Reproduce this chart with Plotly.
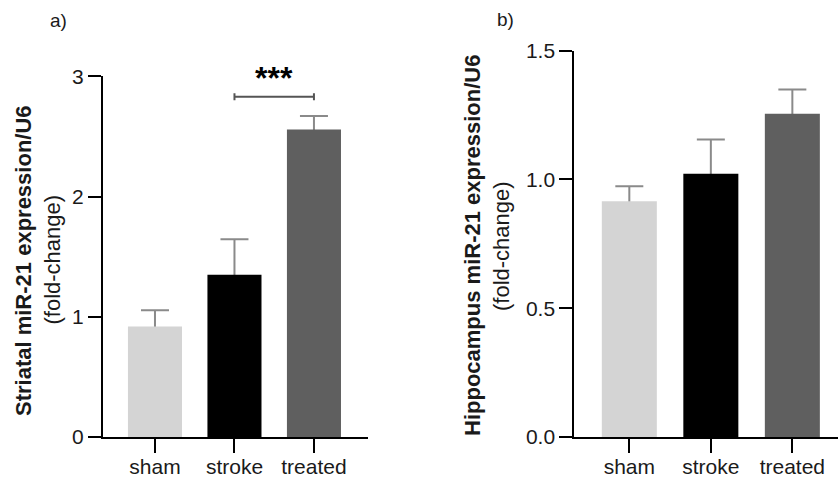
import plotly.graph_objects as go

# ---- data ----
categories = ["sham", "stroke", "treated"]
bar_colors = ["#d4d4d4", "#000000", "#5f5f5f"]

striatal_mean = [0.92, 1.35, 2.557]
striatal_sem = [0.135, 0.295, 0.113]

hippo_mean = [0.915, 1.022, 1.255]
hippo_sem = [0.059, 0.133, 0.094]

striatal_ticks = [0, 1, 2, 3]
striatal_ticklabels = ["0", "1", "2", "3"]
hippo_ticks = [0.0, 0.5, 1.0, 1.5]
hippo_ticklabels = ["0.0", "0.5", "1.0", "1.5"]

# significance: (group a, group b, bracket height, label)
striatal_sig = [("stroke", "treated", 2.83, "***")]

W, H = 838, 478
FONT = "Liberation Sans, Arial, sans-serif"
ERR_COLOR = "#8a8a8a"


def px_x(p):
    return p / W


def px_y(p):
    return 1 - p / H


fig = go.Figure()


def add_panel(means, sems, width, xa, ya):
    # error bars drawn first (running from 0 to mean+sem) so the visible bar hides the lower part
    fig.add_trace(go.Bar(
        x=categories, y=means, width=width,
        marker=dict(color="rgba(0,0,0,0)", line=dict(width=0)),
        error_y=dict(type="data", array=sems, arrayminus=means,
                     symmetric=False, color=ERR_COLOR, thickness=2, width=14),
        xaxis=xa, yaxis=ya, showlegend=False, hoverinfo="skip",
    ))
    fig.add_trace(go.Bar(
        x=categories, y=means, width=width,
        marker=dict(color=bar_colors, line=dict(width=0)),
        xaxis=xa, yaxis=ya, showlegend=False,
    ))


add_panel(striatal_mean, striatal_sem, 0.68, "x", "y")
add_panel(hippo_mean, hippo_sem, 0.675, "x2", "y2")

axis_common = dict(
    showline=True, linecolor="#000000", linewidth=2,
    ticks="outside", tickcolor="#000000", tickwidth=2,
    showgrid=False, zeroline=False, automargin=False,
    tickfont=dict(family=FONT, size=21, color="#1a1a1a"),
)

fig.update_layout(
    width=W, height=H,
    margin=dict(l=0, r=0, t=0, b=0, pad=0, autoexpand=False),
    barmode="overlay",
    paper_bgcolor="white", plot_bgcolor="white",
    font=dict(family=FONT, color="#1a1a1a"),
    xaxis=dict(domain=[px_x(103), px_x(368)], range=[-0.654, 2.68],
               type="category", anchor="y", ticklen=14, ticklabelstandoff=-4,
               **axis_common),
    yaxis=dict(domain=[px_y(437), px_y(76.3)], range=[0, 3],
               tickvals=striatal_ticks, ticktext=striatal_ticklabels,
               anchor="x", ticklen=13, **axis_common),
    xaxis2=dict(domain=[px_x(574.3), 1.0], range=[-0.675, 2.56],
                type="category", anchor="y2", ticklen=14, ticklabelstandoff=-4,
                **axis_common),
    yaxis2=dict(domain=[px_y(437), px_y(50.7)], range=[0, 1.5],
                tickvals=hippo_ticks, ticktext=hippo_ticklabels,
                anchor="x2", ticklen=13, **axis_common),
)

# significance brackets
for a, b, yv, lab in striatal_sig:
    i0, i1 = categories.index(a), categories.index(b)
    fig.add_shape(type="line", xref="x", yref="y", x0=i0, x1=i1, y0=yv, y1=yv,
                  line=dict(color="#555555", width=2))
    for xi in (i0, i1):
        fig.add_shape(type="line", xref="x", yref="y", x0=xi, x1=xi,
                      y0=yv - 0.03, y1=yv + 0.03, line=dict(color="#555555", width=2))
    fig.add_annotation(xref="x", yref="y", x=(i0 + i1) / 2, y=yv + 0.155,
                       text="<b>" + lab + "</b>", showarrow=False,
                       font=dict(family=FONT, size=32, color="#000000"),
                       xanchor="center", yanchor="middle")

# panel labels
fig.add_annotation(xref="paper", yref="paper", x=px_x(48), y=px_y(20), text="a)",
                   showarrow=False, xanchor="left", yanchor="middle",
                   font=dict(family=FONT, size=19, color="#1a1a1a"))
fig.add_annotation(xref="paper", yref="paper", x=px_x(495), y=px_y(19), text="b)",
                   showarrow=False, xanchor="left", yanchor="middle",
                   font=dict(family=FONT, size=19, color="#1a1a1a"))

# y-axis titles
titles = [
    (23, 261, "<b>Striatal miR-21 expression/U6</b>"),
    (52, 259.5, "(fold-change)"),
    (473, 246, "<b>Hippocampus miR-21 expression/U6</b>"),
    (502, 246, "(fold-change)"),
]
for xp, yp, txt in titles:
    fig.add_annotation(xref="paper", yref="paper", x=px_x(xp), y=px_y(yp), text=txt,
                       showarrow=False, textangle=-90, xanchor="center", yanchor="middle",
                       font=dict(family=FONT, size=22, color="#1a1a1a"))

fig.write_html(
    "out.html",
    config={"displayModeBar": False},
    post_script="document.body.style.margin='0';document.body.style.overflow='hidden';",
)
